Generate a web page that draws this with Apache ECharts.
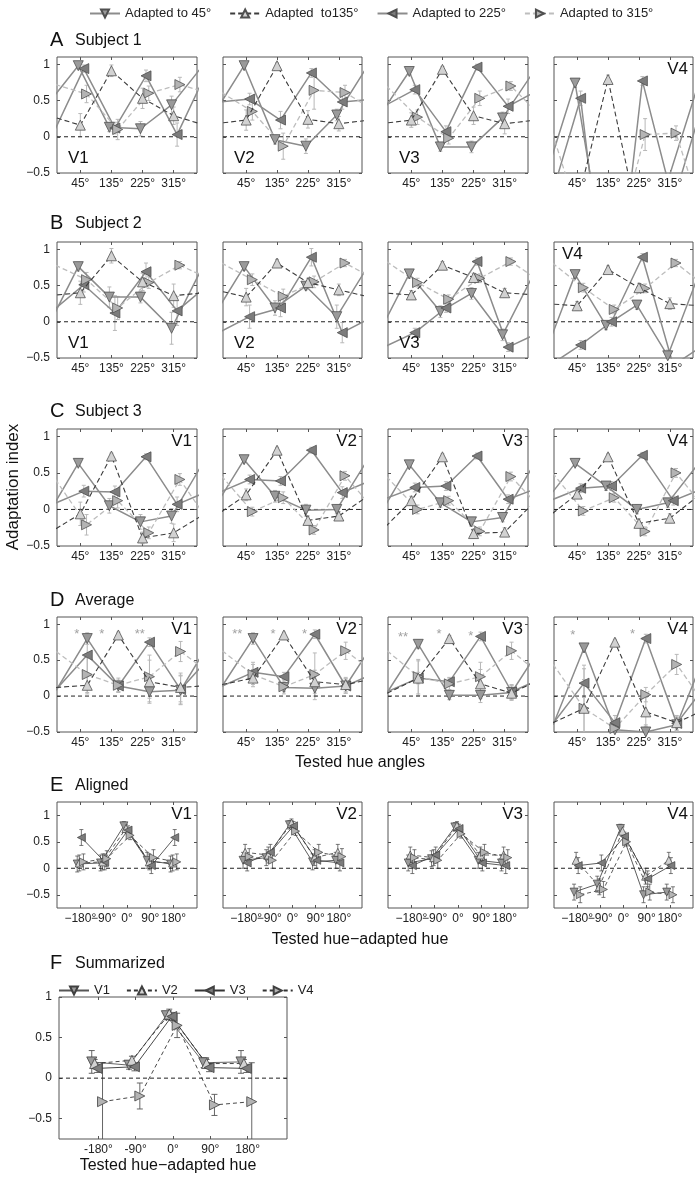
<!DOCTYPE html>
<html><head><meta charset="utf-8">
<script src="https://cdn.jsdelivr.net/npm/echarts@6/dist/echarts.min.js"></script>
<style>html,body{margin:0;padding:0;background:#fff}#c{width:695px;height:1178px}</style>
</head><body><div id="c"></div>
<script>
// ---------- categories / ticks ----------
const testedHues = [45, 135, 225, 315];
const relHues = [-180, -90, 0, 90, 180];
const yTicks = [-0.5, 0, 0.5, 1];
const adaptedNames = ['Adapted to 45°', 'Adapted  to135°', 'Adapted to 225°', 'Adapted to 315°'];
const areaNames = ['V1', 'V2', 'V3', 'V4'];

// ---------- A: Subject 1 (series: adapted 45,135,225,315; values at tested 45,135,225,315) ----------
const A_V1 = [[0.98,0.13,0.11,0.44],[0.16,0.91,0.53,0.29],[0.94,0.12,0.84,0.03],[0.59,0.10,0.60,0.72]];
const A_V2 = [[0.98,-0.04,-0.13,0.30],[0.23,0.98,0.24,0.18],[0.52,0.23,0.88,0.48],[0.35,-0.13,0.64,0.61]];
const A_V3 = [[0.90,-0.14,-0.14,0.26],[0.23,0.93,0.29,0.18],[0.65,0.07,0.96,0.42],[0.27,-0.02,0.53,0.70]];
const A_V4 = [[0.74,-1.83,-1.50,-0.61],[-0.92,0.79,-1.21,-1.00],[0.53,-3.00,0.77,-0.90],[-1.30,-1.60,0.03,0.05]];
const A_V1_err = [[0.04,0.06,0.10,0.12],[0.16,0.08,0.14,0.12],[0.05,0.08,0.08,0.16],[0.12,0.14,0.10,0.10]];
const A_V2_err = [[0.03,0.06,0.10,0.08],[0.14,0.04,0.12,0.10],[0.08,0.12,0.06,0.10],[0.12,0.18,0.26,0.10]];
const A_V3_err = [[0.04,0.06,0.08,0.08],[0.10,0.04,0.12,0.14],[0.06,0.08,0.04,0.10],[0.10,0.08,0.10,0.06]];
const A_V4_err = [[0.06,0.10,0.10,0.10],[0.10,0.06,0.10,0.10],[0.10,0.10,0.06,0.10],[0.10,0.10,0.22,0.10]];

// ---------- B: Subject 2 ----------
const B_V1 = [[0.76,0.34,0.34,-0.09],[0.40,0.91,0.55,0.36],[0.51,0.12,0.69,0.15],[0.58,0.19,0.54,0.78]];
const B_V2 = [[0.76,0.19,0.49,0.07],[0.34,0.81,0.54,0.44],[0.07,0.19,0.89,-0.15],[0.58,0.35,0.55,0.81]];
const B_V3 = [[0.66,0.14,0.39,-0.18],[0.37,0.78,0.61,0.40],[-0.15,0.19,0.83,-0.35],[0.54,0.31,0.60,0.83]];
const B_V4 = [[0.65,-0.05,0.23,-0.47],[0.22,0.72,0.47,0.25],[-0.32,0.00,0.89,-0.60],[0.47,0.17,0.46,0.81]];
const B_V1_err = [[0.06,0.14,0.08,0.22],[0.16,0.10,0.12,0.16],[0.10,0.24,0.12,0.20],[0.10,0.16,0.08,0.05]];
const B_V2_err = [[0.05,0.10,0.05,0.16],[0.12,0.05,0.06,0.08],[0.16,0.12,0.12,0.14],[0.08,0.10,0.08,0.05]];
const B_V3_err = [[0.06,0.08,0.08,0.08],[0.06,0.05,0.06,0.06],[0.06,0.06,0.05,0.06],[0.06,0.06,0.06,0.05]];
const B_V4_err = [[0.05,0.06,0.06,0.08],[0.06,0.05,0.06,0.08],[0.06,0.06,0.05,0.06],[0.06,0.06,0.06,0.05]];

// ---------- C: Subject 3 ----------
const C_V1 = [[0.63,0.05,-0.17,-0.09],[-0.06,0.73,-0.39,-0.32],[0.25,0.24,0.72,0.07],[-0.21,0.12,-0.32,0.41]];
const C_V2 = [[0.68,0.18,-0.01,0.00],[0.20,0.81,-0.15,-0.09],[0.41,0.39,0.81,0.23],[-0.03,0.16,-0.28,0.46]];
const C_V3 = [[0.61,0.09,-0.17,-0.11],[0.12,0.72,-0.33,-0.31],[0.30,0.32,0.73,0.14],[0.00,0.12,-0.30,0.45]];
const C_V4 = [[0.63,0.32,0.00,0.09],[0.21,0.72,-0.19,-0.12],[0.29,0.32,0.74,0.12],[-0.02,0.16,-0.30,0.50]];
const C_V1_err = [[0.04,0.10,0.10,0.10],[0.16,0.04,0.08,0.12],[0.08,0.08,0.04,0.10],[0.14,0.10,0.08,0.08]];
const C_V2_err = [[0.04,0.08,0.08,0.06],[0.08,0.04,0.06,0.06],[0.06,0.06,0.04,0.08],[0.06,0.08,0.06,0.06]];
const C_V3_err = [[0.04,0.06,0.06,0.06],[0.06,0.04,0.06,0.06],[0.06,0.06,0.04,0.06],[0.06,0.06,0.06,0.06]];
const C_V4_err = [[0.04,0.06,0.06,0.06],[0.06,0.04,0.06,0.06],[0.06,0.06,0.04,0.06],[0.06,0.06,0.06,0.06]];

// ---------- D: Average ----------
const D_V1 = [[0.80,0.14,0.06,0.08],[0.15,0.85,0.20,0.12],[0.57,0.14,0.75,0.09],[0.30,0.15,0.27,0.62]];
const D_V2 = [[0.80,0.12,0.11,0.14],[0.25,0.85,0.20,0.16],[0.33,0.27,0.86,0.14],[0.30,0.13,0.30,0.63]];
const D_V3 = [[0.72,0.01,0.01,0.05],[0.25,0.80,0.17,0.04],[0.25,0.20,0.83,0.06],[0.27,0.17,0.27,0.63]];
const D_V4 = [[0.67,-0.47,-0.50,-0.40],[-0.17,0.75,-0.22,-0.37],[0.18,-0.37,0.80,-0.38],[-0.17,-0.45,0.02,0.44]];
const D_V1_err = [[0.08,0.08,0.14,0.20],[0.12,0.04,0.30,0.20],[0.25,0.08,0.06,0.20],[0.25,0.10,0.30,0.14]];
const D_V2_err = [[0.08,0.06,0.16,0.10],[0.12,0.04,0.16,0.10],[0.14,0.06,0.06,0.10],[0.14,0.10,0.30,0.12]];
const D_V3_err = [[0.06,0.06,0.10,0.10],[0.08,0.04,0.20,0.10],[0.24,0.06,0.06,0.10],[0.24,0.08,0.20,0.12]];
const D_V4_err = [[0.06,0.10,0.10,0.10],[0.40,0.04,0.20,0.10],[0.20,0.10,0.06,0.10],[0.60,0.10,0.10,0.14]];
// significance stars: [x (deg), y, text]
const D_V1_stars = [[35, 0.86, '*'], [107, 0.86, '*'], [217, 0.86, '**']];
const D_V2_stars = [[19, 0.86, '**'], [123, 0.86, '*'], [215, 0.86, '*']];
const D_V3_stars = [[21, 0.81, '**'], [125, 0.86, '*'], [217, 0.83, '*']];
const D_V4_stars = [[32, 0.84, '*'], [206, 0.86, '*']];

// ---------- E: Aligned (values at tested-adapted = -180,-90,0,90,180) ----------
const E_V1 = [[0.08,0.10,0.80,0.15,0.08],[0.10,0.12,0.75,0.12,0.10],[0.58,0.12,0.72,0.05,0.58],[0.12,0.18,0.62,0.20,0.12]];
const E_V2 = [[0.15,0.20,0.82,0.12,0.15],[0.30,0.25,0.85,0.20,0.30],[0.10,0.30,0.80,0.15,0.10],[0.22,0.15,0.70,0.30,0.22]];
const E_V3 = [[0.10,0.18,0.78,0.15,0.10],[0.25,0.20,0.80,0.25,0.25],[0.05,0.25,0.75,0.10,0.05],[0.20,0.15,0.65,0.30,0.20]];
const E_V4 = [[-0.45,-0.30,0.75,-0.50,-0.45],[0.15,-0.35,0.70,-0.15,0.15],[0.05,0.10,0.60,-0.20,0.05],[-0.50,-0.40,0.50,-0.45,-0.50]];
const E_err = [0.15, 0.15, 0.08, 0.15, 0.15];

// ---------- F: Summarized (series V1..V4) ----------
const F_vals = [[0.20,0.16,0.77,0.19,0.20],[0.18,0.22,0.79,0.18,0.18],[0.12,0.14,0.76,0.13,0.12],[-0.29,-0.22,0.65,-0.33,-0.29]];
const F_err  = [[0.14,0.05,0.05,0.06,0.14],[0.05,0.05,0.06,0.05,0.05],[0.05,0.05,0.05,0.05,0.05],[0.48,0.16,0.15,0.13,0.48]];

// ---------- styles ----------
const FONT = '"Liberation Sans", Arial, Helvetica, sans-serif';
const ROT  = [180, 0, 90, -90];
const FILL = ['#9a9a9a', '#d2d2d2', '#7c7c7c', '#b4b4b4'];
const LSTY = [
  {color:'#8c8c8c', type:'solid', width:1.5},
  {color:'#3c3c3c', type:[5,3], width:1.1},
  {color:'#8c8c8c', type:'solid', width:1.5},
  {color:'#bdbdbd', type:[5,3], width:1.3}
];
const OFF_ABC = [-6, 0, 10, 18];
const OFF_D = [20, 20, 20, 20];
const OFF_E = [-12, -4, 4, 12];
const OFF_F = [-16, -9, -3, 10];

const COLS = [57, 223, 388, 554];
const PW = [140, 139, 140, 139];
const ROWTOP = [57, 242, 429, 617, 802];
const ROWH = [116, 116, 117, 115, 106];

const grids = [], xAxes = [], yAxes = [], series = [], graphics = [];

function addPanel(left, top, width, height, xr, yr, xt, xfmt, showY, splitFirstLabel) {
  const g = grids.length;
  grids.push({left, top, width, height, show:true, borderColor:'#555', borderWidth:1});
  const tick = {show:true, inside:true, length:3, lineStyle:{color:'#555', width:1}};
  const noLine = {show:false, onZero:false};
  const lab = {show:true, formatter:xfmt, fontFamily:FONT, fontSize:12, color:'#222', margin:5, hideOverlap:false};
  const xi = xAxes.length;
  const mainLabels = splitFirstLabel ? xt.slice(1) : xt;
  xAxes.push({gridIndex:g, type:'value', position:'bottom', min:xr[0], max:xr[1], splitLine:{show:false}, axisLine:noLine,
    axisTick:Object.assign({customValues:xt}, tick),
    axisLabel:Object.assign({customValues:mainLabels}, lab)});
  xAxes.push({gridIndex:g, type:'value', position:'top', min:xr[0], max:xr[1], splitLine:{show:false}, axisLine:noLine,
    axisTick:Object.assign({customValues:xt}, tick), axisLabel:{show:false}});
  if (splitFirstLabel) {
    xAxes.push({gridIndex:g, type:'value', position:'bottom', min:xr[0], max:xr[1], splitLine:{show:false}, axisLine:noLine,
      axisTick:{show:false}, axisLabel:Object.assign({customValues:[xt[0]]}, lab)});
  }
  const yi = yAxes.length;
  const yt = yTicks.filter(v => v >= yr[0] - 1e-9 && v <= yr[1] + 1e-9);
  yAxes.push({gridIndex:g, type:'value', position:'left', min:yr[0], max:yr[1], splitLine:{show:false}, axisLine:noLine,
    axisTick:Object.assign({customValues:yt}, tick),
    axisLabel:{show:showY, customValues:yt, formatter:v => String(v).replace('-', '\u2212'), fontFamily:FONT, fontSize:12, color:'#222', margin:7}});
  yAxes.push({gridIndex:g, type:'value', position:'right', min:yr[0], max:yr[1], splitLine:{show:false}, axisLine:noLine,
    axisTick:Object.assign({customValues:yt}, tick), axisLabel:{show:false}});
  // zero line
  series.push({type:'line', xAxisIndex:xi, yAxisIndex:yi, data:[[xr[0],0],[xr[1],0]], symbol:'none', silent:true, z:2,
    lineStyle:{color:'#222', type:[4,3], width:1}, animation:false});
  return {g, xi, yi, left, top, width, height};
}

function errSeries(p, data, color, cap, lw) {
  series.push({type:'custom', xAxisIndex:p.xi, yAxisIndex:p.yi, clip:true, silent:true, z:1, animation:false,
    data: data,
    renderItem: function(params, api) {
      const x = api.value(0), y = api.value(1), e = api.value(2);
      const a = api.coord([x, y + e]), b = api.coord([x, y - e]);
      const st = {stroke:color, lineWidth:lw};
      return {type:'group', children:[
        {type:'line', shape:{x1:a[0], y1:a[1], x2:b[0], y2:b[1]}, style:st},
        {type:'line', shape:{x1:a[0]-cap, y1:a[1], x2:a[0]+cap, y2:a[1]}, style:st},
        {type:'line', shape:{x1:b[0]-cap, y1:b[1], x2:b[0]+cap, y2:b[1]}, style:st}
      ]};
    }});
}

function panelLabel(p, text, corner) {
  let x, y, align, va;
  if (corner === 'bl') { x = p.left + 11; y = p.top + p.height - 6; align = 'left'; va = 'bottom'; }
  else if (corner === 'tl') { x = p.left + 8; y = p.top + 4; align = 'left'; va = 'top'; }
  else { x = p.left + p.width - 5; y = p.top + 4; align = 'right'; va = 'top'; }
  graphics.push({type:'text', x, y, z:100, style:{text, fill:'#111', font:'17px ' + FONT, textAlign:align, textVerticalAlign:va, verticalAlign:va}});
}

const degFmt = v => v + '°';
const relFmt = v => String(v).replace('-', '\u2212') + '°';

function hueRow(r, panels, errs, offs, corners, stars) {
  for (let c = 0; c < 4; c++) {
    const p = addPanel(COLS[c], ROWTOP[r], PW[c], ROWH[r], [-22.5, 382.5], [-0.5, 1.1], testedHues, degFmt, c === 0, false);
    const vals = panels[c], ev = errs[c];
    const eData = [];
    for (let s = 0; s < 4; s++) {
      const xs = testedHues.map(h => h + offs[s]);
      const v = vals[s];
      const pts = [{value:[xs[3] - 360, v[3]], symbol:'none'}]
        .concat(xs.map((x, i) => [x, v[i]]))
        .concat([{value:[xs[0] + 360, v[0]], symbol:'none'}]);
      series.push({type:'line', name:adaptedNames[s], xAxisIndex:p.xi, yAxisIndex:p.yi, data:pts,
        symbol:'triangle', symbolSize:10, symbolRotate:ROT[s], clip:true, z:3 + (s === 1 ? 1 : 0), animation:false,
        itemStyle:{color:FILL[s], borderColor:'#505050', borderWidth:0.8}, lineStyle:LSTY[s], emphasis:{disabled:true}});
      xs.forEach((x, i) => eData.push([x, v[i], ev[s][i]]));
    }
    errSeries(p, eData, '#b8b8b8', 2, 1);
    if (stars) {
      const st = stars[c];
      series.push({type:'scatter', xAxisIndex:p.xi, yAxisIndex:p.yi, symbolSize:0, silent:true, z:6, animation:false,
        data: st.map(d => [d[0], d[1]]),
        label:{show:true, position:'inside', formatter: q => st[q.dataIndex][2], color:'#8a8a8a', fontSize:13, fontFamily:FONT}});
    }
    panelLabel(p, areaNames[c], corners[c]);
  }
}

hueRow(0, [A_V1, A_V2, A_V3, A_V4], [A_V1_err, A_V2_err, A_V3_err, A_V4_err], OFF_ABC, ['bl','bl','bl','tr'], null);
hueRow(1, [B_V1, B_V2, B_V3, B_V4], [B_V1_err, B_V2_err, B_V3_err, B_V4_err], OFF_ABC, ['bl','bl','bl','tl'], null);
hueRow(2, [C_V1, C_V2, C_V3, C_V4], [C_V1_err, C_V2_err, C_V3_err, C_V4_err], OFF_ABC, ['tr','tr','tr','tr'], null);
hueRow(3, [D_V1, D_V2, D_V3, D_V4], [D_V1_err, D_V2_err, D_V3_err, D_V4_err], OFF_D, ['tr','tr','tr','tr'],
  [D_V1_stars, D_V2_stars, D_V3_stars, D_V4_stars]);

// ---------- E ----------
const E_all = [E_V1, E_V2, E_V3, E_V4];
const E_LINE = [
  {color:'#333', type:'solid', width:0.8}, {color:'#333', type:[4,3], width:0.8},
  {color:'#333', type:'solid', width:0.8}, {color:'#333', type:[4,3], width:0.8}];
for (let c = 0; c < 4; c++) {
  const p = addPanel(COLS[c], ROWTOP[4], PW[c], ROWH[4], [-270, 270], [-0.75, 1.25], relHues, relFmt, c === 0, true);
  const eData = [];
  for (let s = 0; s < 4; s++) {
    const xs = relHues.map(h => h + OFF_E[s]);
    const v = E_all[c][s];
    series.push({type:'line', name:adaptedNames[s], xAxisIndex:p.xi, yAxisIndex:p.yi, data:xs.map((x, i) => [x, v[i]]),
      symbol:'triangle', symbolSize:8, symbolRotate:ROT[s], clip:true, z:3, animation:false,
      itemStyle:{color:FILL[s], borderColor:'#404040', borderWidth:0.7}, lineStyle:E_LINE[s], emphasis:{disabled:true}});
    xs.forEach((x, i) => eData.push([x, v[i], E_err[i]]));
  }
  errSeries(p, eData, '#555', 2, 0.8);
  panelLabel(p, areaNames[c], 'tr');
}

// ---------- F ----------
const pF = addPanel(59, 997, 228, 142, [-275, 275], [-0.75, 1], relHues, v => v + '°', true, false);
const F_LINE = [
  {color:'#555', type:'solid', width:0.9}, {color:'#333', type:[4,3], width:0.9},
  {color:'#333', type:'solid', width:0.9}, {color:'#333', type:[4,3], width:0.9}];
const fErr = [];
for (let s = 0; s < 4; s++) {
  const xs = relHues.map(h => h + OFF_F[s]);
  series.push({type:'line', name:areaNames[s], xAxisIndex:pF.xi, yAxisIndex:pF.yi, data:xs.map((x, i) => [x, F_vals[s][i]]),
    symbol:'triangle', symbolSize:10, symbolRotate:ROT[s], clip:true, z:3, animation:false,
    itemStyle:{color:FILL[s], borderColor:'#404040', borderWidth:0.8}, lineStyle:F_LINE[s], emphasis:{disabled:true}});
  xs.forEach((x, i) => fErr.push([x, F_vals[s][i], F_err[s][i]]));
}
errSeries(pF, fErr, '#555', 3, 0.9);

// ---------- headings / axis titles ----------
const heads = [['A','Subject 1',40],['B','Subject 2',223],['C','Subject 3',411],['D','Average',600],['E','Aligned',785],['F','Summarized',963]];
heads.forEach(h => {
  graphics.push({type:'text', x:50, y:h[2], style:{text:h[0], fill:'#111', font:'20px ' + FONT, textAlign:'left', textVerticalAlign:'middle', verticalAlign:'middle'}});
  graphics.push({type:'text', x:75, y:h[2] + 1, style:{text:h[1], fill:'#111', font:'16px ' + FONT, textAlign:'left', textVerticalAlign:'middle', verticalAlign:'middle'}});
});
graphics.push({type:'text', x:13, y:487, rotation:Math.PI / 2, style:{text:'Adaptation index', fill:'#111', font:'17px ' + FONT, textAlign:'center', textVerticalAlign:'middle', verticalAlign:'middle'}});
graphics.push({type:'text', x:360, y:763, style:{text:'Tested hue angles', fill:'#111', font:'16px ' + FONT, textAlign:'center', textVerticalAlign:'middle', verticalAlign:'middle'}});
graphics.push({type:'text', x:360, y:940, style:{text:'Tested hue\u2212adapted hue', fill:'#111', font:'16px ' + FONT, textAlign:'center', textVerticalAlign:'middle', verticalAlign:'middle'}});
graphics.push({type:'text', x:168, y:1166, style:{text:'Tested hue\u2212adapted hue', fill:'#111', font:'16px ' + FONT, textAlign:'center', textVerticalAlign:'middle', verticalAlign:'middle'}});

const chart = echarts.init(document.getElementById('c'), null, {renderer:'canvas', width:695, height:1178});
chart.setOption({
  animation:false,
  backgroundColor:'#fff',
  textStyle:{fontFamily:FONT},
  legend:[
    {data:adaptedNames, left:84, top:2, itemWidth:30, itemHeight:10, itemGap:18, textStyle:{fontSize:13, color:'#222', fontFamily:FONT}, selectedMode:false},
    {data:areaNames, left:53, top:979, itemWidth:30, itemHeight:10, itemGap:16, textStyle:{fontSize:13, color:'#222', fontFamily:FONT}, selectedMode:false}
  ],
  grid:grids, xAxis:xAxes, yAxis:yAxes, series:series, graphic:graphics
});
</script></body></html>
